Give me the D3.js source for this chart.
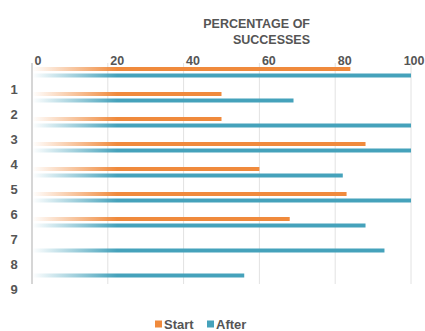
<!DOCTYPE html>
<html><head><meta charset="utf-8">
<script src="https://cdn.jsdelivr.net/npm/d3@7"></script>
<style>body{margin:0;background:#fff}svg{display:block}text{font-family:"Liberation Sans",Arial,sans-serif;font-weight:bold;fill:#555}</style>
</head><body>
<script>
const categories = ["1","2","3","4","5","6","7","8","9"];
const startValues = [84, 50, 50, 88, 60, 83, 68, 0, 0];
const afterValues = [100, 69, 100, 100, 82, 100, 88, 93, 56];
const xTicks = [0, 20, 40, 60, 80, 100];
const seriesNames = ["Start", "After"];
const colors = {Start: "#f08a3c", After: "#45a2bb"};

const W = 425, H = 331;
const svg = d3.select("body").append("svg").attr("width", W).attr("height", H);
const x = d3.scaleLinear().domain([0, 100]).range([32, 411]);
const y = d3.scaleBand().domain(categories).range([60, 285]);

const defs = svg.append("defs");
seriesNames.forEach(s => {
  const g = defs.append("linearGradient").attr("id", "g" + s)
    .attr("gradientUnits", "userSpaceOnUse").attr("x1", x(0)).attr("x2", x(0) + 85).attr("y1", 0).attr("y2", 0);
  g.append("stop").attr("offset", 0).attr("stop-color", colors[s]).attr("stop-opacity", 0);
  g.append("stop").attr("offset", 1).attr("stop-color", colors[s]).attr("stop-opacity", 1);
});

// gridlines
svg.append("g").selectAll("line").data(xTicks).join("line")
  .attr("x1", d => x(d)).attr("x2", d => x(d)).attr("y1", 63).attr("y2", 284)
  .attr("stroke", d => d === 0 ? "#c8c8c8" : "#e2e2e2").attr("stroke-width", d => d === 0 ? 1.5 : 1);

// x tick labels (top), left-aligned at gridlines, last one kept inside
const xAxis = d3.axisTop(x).tickValues(xTicks).tickSize(0).tickPadding(0);
const xg = svg.append("g").attr("transform", "translate(0,65)").call(xAxis);
xg.select(".domain").remove();
xg.selectAll("text").attr("font-size", 12.5).attr("fill", "#555")
  .style("font-family", "Liberation Sans, Arial, sans-serif").style("font-weight", "bold")
  .attr("text-anchor", d => d === 100 ? "end" : "start")
  .attr("dx", d => d === 100 ? (W - 1 - x(d)) : 2);

// title
const t = svg.append("text").attr("text-anchor", "end").attr("font-size", 12.5);
t.append("tspan").attr("x", 310).attr("y", 28).text("PERCENTAGE OF");
t.append("tspan").attr("x", 310).attr("y", 44).text("SUCCESSES");

// bars
const bh = 4;
svg.append("g").selectAll("rect").data(categories.map((c, i) => ({c, v: startValues[i]})).filter(d => d.v > 0)).join("rect")
  .attr("x", x(0) + 1).attr("width", d => x(d.v) - x(0) - 1)
  .attr("y", d => y(d.c) + y.bandwidth() / 2 - 3.5 - bh / 2).attr("height", bh)
  .attr("fill", "url(#gStart)");
svg.append("g").selectAll("rect").data(categories.map((c, i) => ({c, v: afterValues[i]})).filter(d => d.v > 0)).join("rect")
  .attr("x", x(0) + 1).attr("width", d => x(d.v) - x(0) - 1)
  .attr("y", d => y(d.c) + y.bandwidth() / 2 + 3 - bh / 2).attr("height", bh)
  .attr("fill", "url(#gAfter)");

// category labels (offset as in the reference)
svg.append("g").selectAll("text").data(categories).join("text")
  .attr("x", 14).attr("y", d => y(d) + y.bandwidth() + 4).attr("dy", "0.35em")
  .attr("text-anchor", "middle").attr("font-size", 13).text(d => d);

// legend
const lg = svg.append("g").attr("transform", "translate(0,324)");
const lx = [155, 207];
seriesNames.forEach((s, i) => {
  lg.append("rect").attr("x", lx[i]).attr("y", -3.5).attr("width", 7).attr("height", 7).attr("fill", colors[s]);
  lg.append("text").attr("x", lx[i] + 9).attr("y", 0).attr("dy", "0.35em").attr("font-size", 13).text(s);
});
</script>
</body></html>
